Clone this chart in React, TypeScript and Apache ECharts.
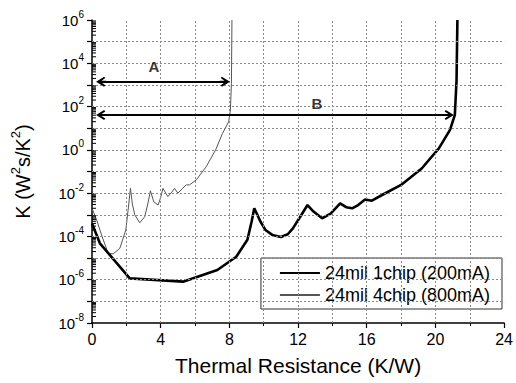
import React, { useEffect, useRef } from 'react';
import * as echarts from 'echarts';

// Thermal resistance (K/W) and log10(K)
const xOneChip = [0, 0.46, 2.2, 5.3, 7.3, 8.4, 9.05, 9.3, 9.45, 9.6, 9.8, 10.1, 10.5, 11.0, 11.4, 11.7, 12.2, 12.55, 12.9, 13.4, 13.9, 14.45, 14.8, 15.15, 15.5, 15.9, 16.3, 17.0, 18.0, 19.2, 20.2, 20.85, 21.13, 21.23, 21.28];
const logKOneChip = [-3.4, -4.32, -5.94, -6.09, -5.55, -4.94, -4.15, -3.3, -2.7, -2.95, -3.3, -3.7, -3.93, -4.03, -3.9, -3.63, -3.0, -2.55, -2.85, -3.16, -2.95, -2.47, -2.65, -2.7, -2.55, -2.29, -2.35, -2.04, -1.62, -0.86, 0.07, 0.92, 1.61, 3.2, 6];

const xFourChip = [0, 0.27, 0.56, 0.94, 1.23, 1.62, 1.97, 2.1, 2.24, 2.35, 2.49, 2.78, 3.07, 3.25, 3.4, 3.6, 3.85, 4.0, 4.13, 4.42, 4.65, 4.81, 5.0, 5.25, 5.49, 5.68, 6.07, 6.65, 7.2, 7.6, 7.96, 8.06, 8.12, 8.15];
const logKFourChip = [-2.7, -3.24, -3.94, -4.78, -4.81, -4.55, -3.7, -2.8, -1.78, -2.5, -3.0, -3.37, -3.09, -2.5, -1.89, -2.4, -2.55, -2.2, -1.78, -2.16, -1.95, -1.78, -2.0, -1.8, -1.62, -1.62, -1.39, -0.78, 0.0, 0.76, 1.3, 1.84, 3.07, 6];

const seriesNames = ['24mil 1chip (200mA)', '24mil 4chip (800mA)'];

// Range arrows A and B
const arrowNames = ['A', 'B'];
const arrowLogK = [3.15, 1.61];
const arrowStart = [0.53, 0.53];
const arrowEnd = [7.74, 20.78];
const arrowLabelX = [3.6, 13.1];
const arrowLabelLogK = [3.83, 2.16];

// Axes
const xMin = 0, xMax = 24, xStep = 4;
const yMin = -8, yMax = 6;
const xGridLines = [2, 4, 6, 8, 10, 12, 14, 16, 18, 20, 22];
const yGridLines = [-7, -6, -5, -4, -3, -2, -1, 0, 1, 2, 3, 4, 5];
const minorMultipliers = [2, 3, 4, 5, 6, 7, 8, 9];

const FONT = '"Liberation Sans", Arial, Helvetica, sans-serif';

export default function App() {
  const ref = useRef<HTMLDivElement>(null);
  useEffect(() => {
    if (!ref.current) return;
    const chart = echarts.init(ref.current, null, { renderer: 'svg' });
    const minorTickData: number[][] = [];
    for (let d = yMin; d < yMax; d++) {
      for (const k of minorMultipliers) minorTickData.push([0, d + Math.log10(k)]);
    }
    const arrowPath = 'path://M5,0 L10,8 L8.6,9.2 L5.9,5.4 L5.9,10 L4.1,10 L4.1,5.4 L1.4,9.2 L0,8 Z';
    chart.setOption({
      animation: false,
      grid: { left: 92, right: 10, top: 20, bottom: 60, containLabel: false },
      legend: {
        data: seriesNames,
        orient: 'vertical',
        right: 14,
        top: 258,
        backgroundColor: '#fff',
        borderColor: '#333',
        borderWidth: 1,
        borderRadius: 0,
        padding: [6, 12, 5, 18],
        itemWidth: 40,
        itemHeight: 14,
        itemGap: 4,
        itemStyle: { opacity: 0 },
        textStyle: { fontSize: 18, fontFamily: FONT, color: '#000' },
      },
      xAxis: {
        type: 'value',
        min: xMin,
        max: xMax,
        interval: xStep,
        name: 'Thermal Resistance (K/W)',
        nameLocation: 'middle',
        nameGap: 32,
        nameTextStyle: { fontSize: 21, fontFamily: FONT, color: '#000' },
        axisLine: { show: true, onZero: false, lineStyle: { color: '#000', width: 1.5 } },
        axisTick: { show: true, length: 5, lineStyle: { color: '#000', width: 1.2 } },
        minorTick: { show: true, splitNumber: 2, length: 3, lineStyle: { color: '#000', width: 1 } },
        axisLabel: { fontSize: 16, fontFamily: FONT, color: '#000', margin: 8 },
        splitLine: { show: false },
      },
      yAxis: {
        type: 'value',
        min: yMin,
        max: yMax,
        interval: 1,
        name: '{n|K (W}{s|2}{n|s/K}{s|2}{n|)}',
        nameLocation: 'middle',
        nameRotate: 90,
        nameGap: 55,
        nameTextStyle: {
          rich: {
            n: { fontSize: 20, fontFamily: FONT, color: '#000', lineHeight: 28 },
            s: { fontSize: 13, fontFamily: FONT, color: '#000', verticalAlign: 'top' },
          },
        },
        axisLine: { show: true, onZero: false, lineStyle: { color: '#000', width: 1.5 } },
        axisTick: { show: true, length: 5, lineStyle: { color: '#000', width: 1.2 } },
        axisLabel: {
          margin: 8,
          formatter: (v: number) => {
            const e = Math.round(v);
            if (e % 2 !== 0) return '';
            return '{b|10}{s|' + e + '}';
          },
          rich: {
            b: { fontSize: 15, fontFamily: FONT, color: '#000', lineHeight: 22 },
            s: { fontSize: 10, fontFamily: FONT, color: '#000', verticalAlign: 'top' },
          },
        },
        splitLine: { show: false },
      },
      series: [
        {
          name: 'grid',
          type: 'line',
          data: [],
          silent: true,
          z: 1,
          markLine: {
            silent: true,
            symbol: 'none',
            label: { show: false },
            lineStyle: { color: '#8a8a8a', type: [2, 2], width: 1 },
            emphasis: { disabled: true },
            data: [
              ...xGridLines.map((v) => ({ xAxis: v })),
              ...yGridLines.map((v) => ({ yAxis: v })),
            ],
          },
        },
        {
          name: seriesNames[0],
          type: 'line',
          data: xOneChip.map((x, i) => [x, logKOneChip[i]]),
          symbol: 'none',
          lineStyle: { color: '#000', width: 2.6 },
          itemStyle: { color: '#000' },
          z: 4,
        },
        {
          name: seriesNames[1],
          type: 'line',
          data: xFourChip.map((x, i) => [x, logKFourChip[i]]),
          symbol: 'none',
          lineStyle: { color: '#555', width: 1 },
          itemStyle: { color: '#555' },
          z: 3,
        },
        {
          name: 'arrows',
          type: 'line',
          data: [],
          silent: true,
          z: 5,
          markLine: {
            silent: true,
            symbol: [arrowPath, arrowPath],
            symbolSize: [10, 10],
            label: { show: false },
            lineStyle: { color: '#000', type: 'solid', width: 2 },
            itemStyle: { color: '#000' },
            emphasis: { disabled: true },
            data: arrowNames.map((_, i) => [
              { coord: [arrowStart[i], arrowLogK[i]] },
              { coord: [arrowEnd[i], arrowLogK[i]] },
            ]),
          },
        },
        {
          name: 'arrowLabels',
          type: 'scatter',
          silent: true,
          symbolSize: 0,
          data: arrowNames.map((n, i) => ({ value: [arrowLabelX[i], arrowLabelLogK[i]], name: n })),
          label: {
            show: true,
            position: 'inside',
            formatter: (p: any) => p.name,
            fontSize: 15,
            fontWeight: 'bold',
            fontFamily: FONT,
            color: '#000',
          },
          z: 6,
        },
        {
          name: 'minorTicks',
          type: 'custom',
          silent: true,
          clip: false,
          data: minorTickData,
          renderItem: (params: any, api: any) => {
            const p = api.coord([xMin, api.value(1)]);
            return {
              type: 'line',
              shape: { x1: p[0], y1: p[1], x2: p[0] + 4, y2: p[1] },
              style: { stroke: '#000', lineWidth: 1 },
            };
          },
          z: 6,
        },
      ],
    });
    return () => chart.dispose();
  }, []);
  return <div ref={ref} style={{ position: 'fixed', left: 0, top: 0, width: 516, height: 383, background: '#fff' }} />;
}
